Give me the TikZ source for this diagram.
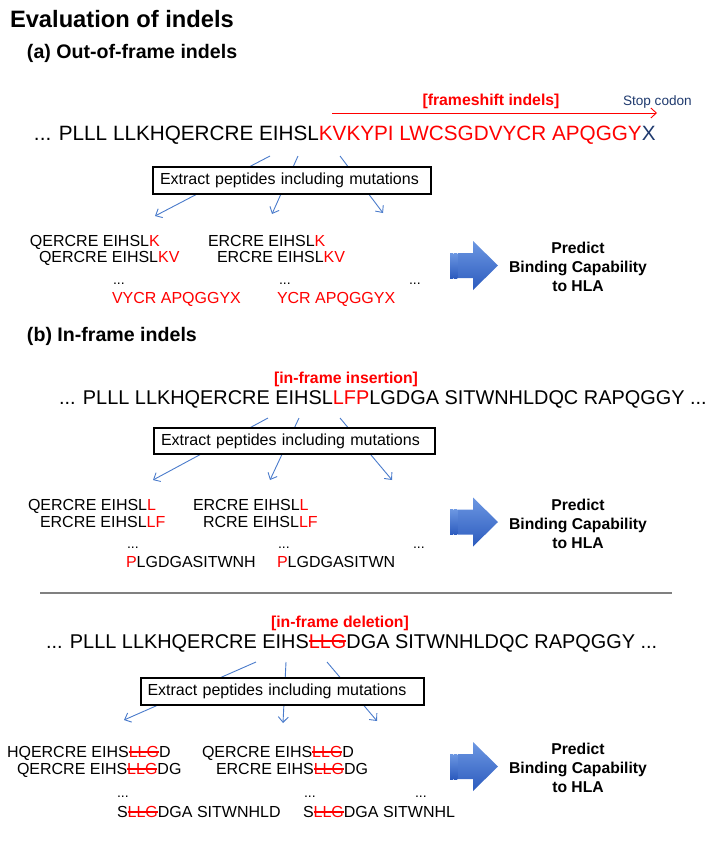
\documentclass[tikz,border=0pt]{standalone}
\usepackage{fontspec}
\setmainfont{Liberation Sans}
\usetikzlibrary{arrows.meta}
\definecolor{seqred}{HTML}{FF0000}
\definecolor{navy}{HTML}{1F3A6E}
\definecolor{linkblue}{HTML}{4A7BCB}
\definecolor{arrowlight}{HTML}{6C97E2}
\definecolor{arrowdark}{HTML}{2C5BBE}
\definecolor{sepgray}{HTML}{808080}
\newcommand\rd[1]{\textcolor{seqred}{#1}}
\newsavebox\strkbox
\newcommand\strk[1]{\sbox\strkbox{\textcolor{seqred}{#1}}\rlap{\textcolor{seqred}{\rule[0.28em]{\wd\strkbox}{0.11em}}}\usebox\strkbox}
\newcommand\predarrow[1]{%
  \begin{scope}[shift={(0,#1)}]
    \shade[top color=arrowlight, bottom color=arrowdark]
      (458,-12.5) -- (473,-12.5) -- (473,-24.5) -- (498,0) -- (473,24.5) -- (473,12.5) -- (458,12.5) -- cycle;
    \shade[top color=arrowlight, bottom color=arrowdark] (450,-12.5) rectangle (452.8,12.5);
    \shade[top color=arrowlight, bottom color=arrowdark] (453.6,-12.5) rectangle (457.3,12.5);
  \end{scope}}
\begin{document}
\begin{tikzpicture}[x=1pt,y=-1pt,
  every node/.style={inner sep=0pt, outer sep=0pt},
  titlestyle/.style={anchor=base west, font=\fontsize{23.7}{28}\selectfont\bfseries},
  sect/.style={anchor=base west, font=\fontsize{19.6}{24}\selectfont\bfseries},
  lbl/.style={anchor=base, text=seqred, font=\fontsize{15.8}{19}\selectfont\bfseries},
  stopstyle/.style={anchor=base west, text=navy, font=\fontsize{13.6}{16}\selectfont},
  seqA/.style={anchor=base west, font=\fontsize{20.7}{24}\selectfont},
  seqline/.style={anchor=base west, font=\fontsize{19.9}{24}\selectfont},
  pep/.style={anchor=base west, font=\fontsize{16}{19}\selectfont},
  dotsstyle/.style={anchor=base west, font=\fontsize{14}{17}\selectfont},
  extract/.style={anchor=north west, draw, fill=white, line width=1.1pt, inner xsep=7pt, inner ysep=0pt, minimum height=27pt, align=left, font=\fontsize{16}{19}\selectfont},
  predict/.style={align=center, font=\fontsize{15.7}{19}\selectfont\bfseries},
  link/.style={draw=linkblue, line width=0.9pt, -{Straight Barb[length=5.5pt,width=10pt]}},
  redarrow/.style={draw=seqred, line width=0.9pt, -{Straight Barb[length=5.5pt,width=10pt]}},
  seprule/.style={draw=sepgray, line width=1.2pt}]
\useasboundingbox (0,0) rectangle (720,852);

\node[titlestyle] (title) at (10,27) {Evaluation of indels};
\node[sect] (secA) at (27,58) {(a) Out-of-frame indels};
\node[sect] (secB) at (27,341) {(b) In-frame indels};

% ---------- (a) ----------
\node[lbl] (fsLabel) at (491,105) {[frameshift indels]};
\node[stopstyle] (stop) at (623,105) {Stop codon};
\coordinate (fsS) at (332,113);
\coordinate (fsE) at (657,113);
\draw[redarrow] (fsS) -- (fsE);
\node[seqA] (seqAn) at (34,140) {... PLLL LLKHQERCRE EIHSL\rd{KVKYPI LWCSGDVYCR APQGGY}\textcolor{navy}{X}};

\coordinate (a1s) at (270,156); \coordinate (a1t) at (155,216);
\coordinate (a2s) at (298,156); \coordinate (a2t) at (272,214);
\coordinate (a3s) at (340,156); \coordinate (a3t) at (383,213);
\draw[link] (a1s) -- (a1t);
\draw[link] (a2s) -- (a2t);
\draw[link] (a3s) -- (a3t);
\node[extract, text width=264pt] (boxA) at (153,167) {Extract peptides including mutations};

\node[pep] (pA1) at (30,246) {QERCRE EIHSL\rd{K}};
\node[pep] (pA2) at (39,262) {QERCRE EIHSL\rd{KV}};
\node[dotsstyle] (dA1) at (113,284) {...};
\node[pep] (pA3) at (112,303) {\rd{VYCR APQGGYX}};
\node[pep] (pA4) at (208,246) {ERCRE EIHSL\rd{K}};
\node[pep] (pA5) at (217,262) {ERCRE EIHSL\rd{KV}};
\node[dotsstyle] (dA2) at (279,284) {...};
\node[pep] (pA6) at (277,303) {\rd{YCR APQGGYX}};
\node[dotsstyle] (dA3) at (409,284) {...};

\predarrow{265.5}
\node[predict] (predA) at (578,267) {Predict\\Binding Capability\\to HLA};

% ---------- (b) insertion ----------
\node[lbl] (insLabel) at (346,383) {[in-frame insertion]};
\node[seqline] (seqBn) at (59,404) {... PLLL LLKHQERCRE EIHSL\rd{LFP}LGDGA SITWNHLDQC RAPQGGY ...};

\coordinate (b1s) at (268,418); \coordinate (b1t) at (153,480);
\coordinate (b2s) at (299,418); \coordinate (b2t) at (270,480);
\coordinate (b3s) at (340,418); \coordinate (b3t) at (392,480);
\draw[link] (b1s) -- (b1t);
\draw[link] (b2s) -- (b2t);
\draw[link] (b3s) -- (b3t);
\node[extract, text width=267pt, minimum height=26pt] (boxB) at (154,428) {Extract peptides including mutations};

\node[pep] (pB1) at (28,510) {QERCRE EIHSL\rd{L}};
\node[pep] (pB2) at (40,527) {ERCRE EIHSL\rd{LF}};
\node[dotsstyle] (dB1) at (127,548) {...};
\node[pep] (pB3) at (126,567) {\rd{P}LGDGASITWNH};
\node[pep] (pB4) at (193,510) {ERCRE EIHSL\rd{L}};
\node[pep] (pB5) at (203,527) {RCRE EIHSL\rd{LF}};
\node[dotsstyle] (dB2) at (278,548) {...};
\node[pep] (pB6) at (277,567) {\rd{P}LGDGASITWN};
\node[dotsstyle] (dB3) at (413,548) {...};

\predarrow{522}
\node[predict] (predB) at (578,524) {Predict\\Binding Capability\\to HLA};

% separator
\coordinate (sepL) at (40,593);
\coordinate (sepR) at (672,593);
\draw[seprule] (sepL) -- (sepR);

% ---------- (b) deletion ----------
\node[lbl] (delLabel) at (340,627) {[in-frame deletion]};
\node[seqline] (seqCn) at (46,648) {... PLLL LLKHQERCRE EIHS\strk{LLG}DGA SITWNHLDQC RAPQGGY ...};

\coordinate (c1s) at (256,662); \coordinate (c1t) at (124,720);
\coordinate (c2s) at (286,662); \coordinate (c2t) at (283,723);
\coordinate (c3s) at (327,662); \coordinate (c3t) at (377,721);
\draw[link] (c1s) -- (c1t);
\draw[link] (c2s) -- (c2t);
\draw[link] (c3s) -- (c3t);
\node[extract, text width=270pt, inner xsep=6.5pt] (boxC) at (141,678) {Extract peptides including mutations};

\node[pep] (pC1) at (7,757) {HQERCRE EIHS\strk{LLG}D};
\node[pep] (pC2) at (17,774) {QERCRE EIHS\strk{LLG}DG};
\node[dotsstyle] (dC1) at (117,797) {...};
\node[pep] (pC3) at (117,817) {S\strk{LLG}DGA SITWNHLD};
\node[pep] (pC4) at (202,757) {QERCRE EIHS\strk{LLG}D};
\node[pep] (pC5) at (216,774) {ERCRE EIHS\strk{LLG}DG};
\node[dotsstyle] (dC2) at (304,797) {...};
\node[pep] (pC6) at (303,817) {S\strk{LLG}DGA SITWNHL};
\node[dotsstyle] (dC3) at (415,797) {...};

\predarrow{766.5}
\node[predict] (predC) at (578,768) {Predict\\Binding Capability\\to HLA};
\end{tikzpicture}
\end{document}
